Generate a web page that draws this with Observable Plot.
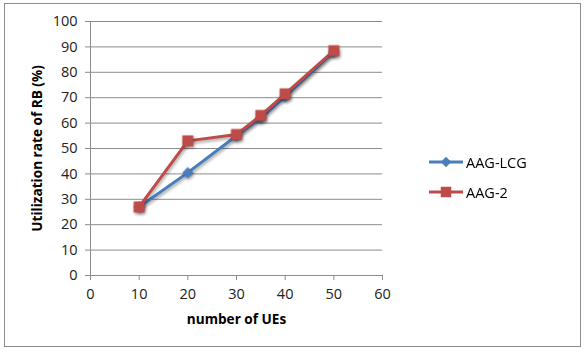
<!DOCTYPE html>
<html>
<head>
<meta charset="utf-8">
<script src="https://cdn.jsdelivr.net/npm/d3@7"></script>
<script src="https://cdn.jsdelivr.net/npm/@observablehq/plot@0.6"></script>
<style>
  html, body { margin: 0; padding: 0; background: #fff; }
  #wrap { position: relative; width: 585px; height: 352px; overflow: hidden; font-family: "Open Sans", sans-serif; }
  #border { position: absolute; left: 4px; top: 3px; width: 575px; height: 342px; border: 1.5px solid #8c8c8c; box-sizing: content-box; }
  #chart { position: absolute; left: 0; top: 0; }
  #legend { position: absolute; left: 428px; top: 147px; font-size: 14.5px; color: #000; }
  #legend .item { display: flex; align-items: center; height: 30px; }
  #legend svg { margin-right: 2px; }
  .shadow g[aria-label="line"], .shadow g[aria-label="dot"] { filter: drop-shadow(1px 2px 1.5px rgba(0,0,0,0.35)); }
</style>
</head>
<body>
<div id="wrap">
  <div id="chart"></div>
  <div id="border"></div>
  <div id="legend"></div>
</div>
<script>
const users = [10, 20, 30, 35, 40, 50];
const aagLCG = [27, 40.5, 55, 62, 70.5, 88];
const aag2 = [27, 53, 55.5, 63, 71.5, 88.5];
const seriesNames = ["AAG-LCG", "AAG-2"];
const seriesColors = ["#4a7ebb", "#be4b48"];
const xTicks = [0, 10, 20, 30, 40, 50, 60];
const yTicks = [0, 10, 20, 30, 40, 50, 60, 70, 80, 90, 100];
const xTitle = "number of UEs";
const yTitle = "Utilization rate of RB (%)";

const dataLCG = users.map((u, i) => ({x: u, y: aagLCG[i]}));
const data2 = users.map((u, i) => ({x: u, y: aag2[i]}));

const plot = Plot.plot({
  width: 585,
  height: 352,
  marginLeft: 90,
  marginRight: 203,
  marginTop: 21,
  marginBottom: 77,
  className: "shadow",
  style: {fontFamily: "Open Sans, sans-serif", fontSize: "14.5px", color: "#000", background: "transparent", overflow: "visible"},
  x: {domain: [0, 60], ticks: xTicks, label: null},
  y: {domain: [0, 100], ticks: yTicks, label: null},
  marks: [
    Plot.gridY(yTicks.filter(d => d > 0), {stroke: "#8c8c8c", strokeOpacity: 1, strokeWidth: 1}),
    Plot.ruleY([0], {stroke: "#8c8c8c"}),
    Plot.ruleX([0], {stroke: "#8c8c8c"}),
    Plot.axisY({ticks: yTicks, tickSize: 5, tickPadding: 8, stroke: "#8c8c8c", fill: "#222", label: null}),
    Plot.axisX({ticks: xTicks, tickSize: 5, tickPadding: 8, stroke: "#8c8c8c", fill: "#222", label: null}),
    Plot.text([xTitle], {frameAnchor: "bottom", dy: 48, fontWeight: "bold", fontSize: 13.6, fill: "#000"}),
    Plot.text([yTitle], {frameAnchor: "left", textAnchor: "middle", rotate: -90, dx: -53, fontWeight: "bold", fontSize: 13.6, fill: "#000"}),
    Plot.line(dataLCG, {x: "x", y: "y", stroke: seriesColors[0], strokeWidth: 3}),
    Plot.dot(dataLCG, {x: "x", y: "y", symbol: "diamond2", r: 5, fill: seriesColors[0], stroke: "none"}),
    Plot.line(data2, {x: "x", y: "y", stroke: seriesColors[1], strokeWidth: 3}),
    Plot.dot(data2, {x: "x", y: "y", symbol: "square", r: 6.2, fill: seriesColors[1], stroke: "none"})
  ]
});
document.getElementById("chart").appendChild(plot);

// Legend
const legend = d3.select("#legend");
const symbols = [d3.symbolDiamond2, d3.symbolSquare];
const sizes = [70, 110];
seriesNames.forEach((name, i) => {
  const item = legend.append("div").attr("class", "item");
  const svg = item.append("svg").attr("width", 36).attr("height", 14);
  svg.append("line").attr("x1", 1).attr("x2", 35).attr("y1", 7).attr("y2", 7)
    .attr("stroke", seriesColors[i]).attr("stroke-width", 3);
  svg.append("path").attr("d", d3.symbol(symbols[i], sizes[i])()).attr("transform", "translate(18,7)")
    .attr("fill", seriesColors[i]);
  item.append("span").text(name);
});
</script>
</body>
</html>
